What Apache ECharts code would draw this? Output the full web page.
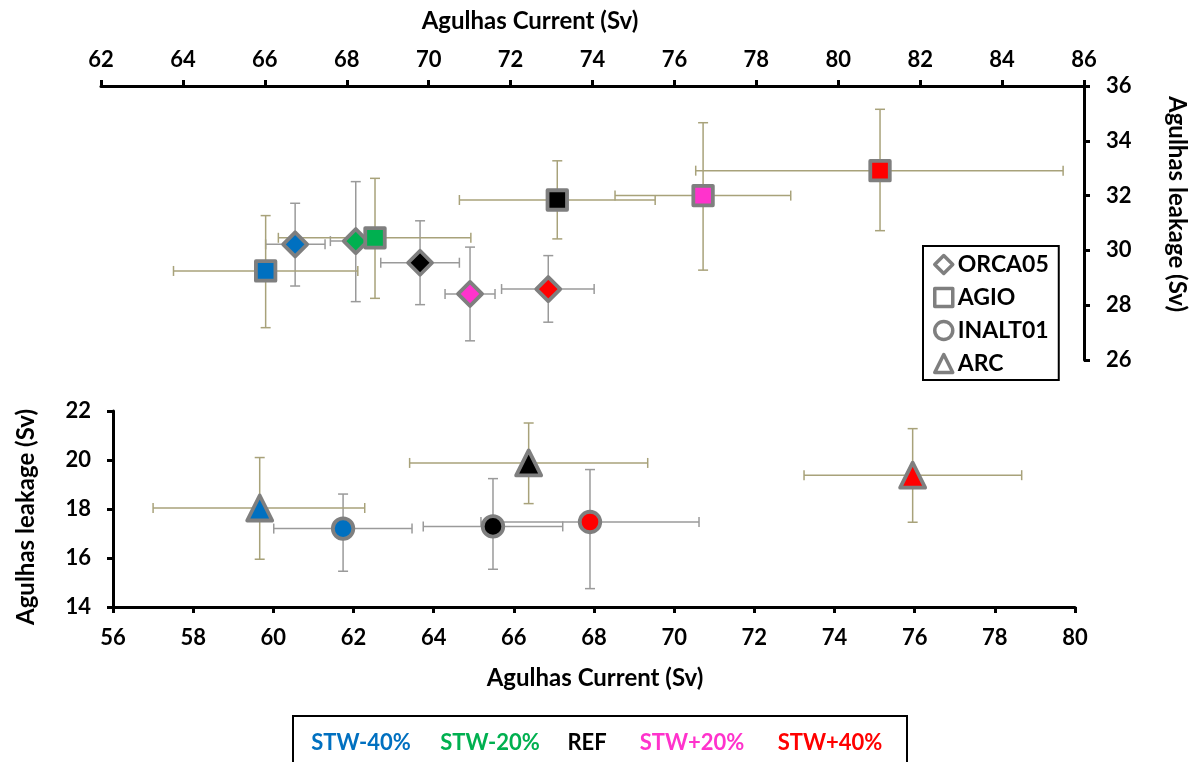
<!DOCTYPE html>
<html><head><meta charset="utf-8">
<script src="https://cdn.jsdelivr.net/npm/echarts@6/dist/echarts.min.js"></script>
<style>html,body{margin:0;padding:0;background:#fff}#c{width:1198px;height:762px}</style>
</head><body><div id="c"></div>
<script>
// ---------- data ----------
const scenarios = ['STW-40%', 'STW-20%', 'REF', 'STW+20%', 'STW+40%'];
const scenarioColors = ['#0070C0', '#00B050', '#000000', '#FF33CC', '#FF0000'];
const models = ['ORCA05', 'AGIO', 'INALT01', 'ARC'];

// top panel axes (x: Agulhas Current, y: leakage)
const topXRange = [62, 86, 2];
const topYRange = [26, 36, 2];
// bottom panel axes
const botXRange = [56, 80, 2];
const botYRange = [14, 22, 2];

const xTitle = 'Agulhas Current (Sv)';
const yTitle = 'Agulhas leakage (Sv)';

// ORCA05 (top panel, diamonds) - per scenario
const orcaX     = [66.74, 68.22, 69.79, 71.01, 72.92];
const orcaY     = [30.22, 30.34, 29.55, 28.41, 28.59];
const orcaXLow  = [66.02, 67.60, 68.83, 70.40, 71.78];
const orcaXHigh = [67.47, 68.84, 70.75, 71.62, 74.04];
const orcaYLow  = [28.70, 28.13, 28.02, 26.70, 27.38];
const orcaYHigh = [31.72, 32.51, 31.08, 30.12, 29.81];

// AGIO (top panel, squares)
const agioX     = [66.02, 68.69, 73.14, 76.70, 81.02];
const agioY     = [29.25, 30.46, 31.84, 32.00, 32.91];
const agioXLow  = [63.77, 66.33, 70.75, 74.55, 76.52];
const agioXHigh = [68.27, 71.03, 75.53, 78.84, 85.49];
const agioYLow  = [27.18, 28.25, 30.42, 29.28, 30.72];
const agioYHigh = [31.27, 32.63, 33.27, 34.66, 35.15];

// INALT01 (bottom panel, circles)
const inaltX     = [61.74, null, 65.48, null, 67.90];
const inaltY     = [17.20, null, 17.29, null, 17.47];
const inaltXLow  = [60.01, null, 63.74, null, 65.18];
const inaltXHigh = [63.46, null, 67.22, null, 70.62];
const inaltYLow  = [15.46, null, 15.54, null, 14.75];
const inaltYHigh = [18.61, null, 19.24, null, 19.61];

// ARC (bottom panel, triangles)
const arcX     = [59.66, null, 66.37, null, 75.95];
const arcY     = [18.04, null, 19.88, null, 19.38];
const arcXLow  = [57.00, null, 63.40, null, 73.24];
const arcXHigh = [62.28, null, 69.34, null, 78.67];
const arcYLow  = [15.95, null, 18.22, null, 17.46];
const arcYHigh = [20.10, null, 21.51, null, 21.28];

// ---------- styling ----------
const FONT = 'Lato';
const olive = '#A8A27A';
const grey = '#9A9A9A';
const markerBorder = '#7F7F7F';

function errRows(x, y, xl, xh, yl, yh) {
  const rows = [];
  for (let i = 0; i < x.length; i++) {
    if (x[i] == null) continue;
    rows.push([x[i], y[i], xl[i], xh[i], yl[i], yh[i]]);
  }
  return rows;
}
function pointRows(x, y) {
  const rows = [];
  for (let i = 0; i < x.length; i++) {
    if (x[i] == null) continue;
    rows.push({ value: [x[i], y[i]], name: scenarios[i], itemStyle: { color: scenarioColors[i] } });
  }
  return rows;
}
function errSeries(name, grid, rows, color) {
  return {
    type: 'custom', name: name + ' err', xAxisIndex: grid, yAxisIndex: grid, z: 1,
    silent: true,
    encode: { x: [0, 2, 3], y: [1, 4, 5] },
    data: rows,
    renderItem: function (params, api) {
      const c = api.coord([api.value(0), api.value(1)]);
      const xl = api.coord([api.value(2), api.value(1)]);
      const xh = api.coord([api.value(3), api.value(1)]);
      const yl = api.coord([api.value(0), api.value(4)]);
      const yh = api.coord([api.value(0), api.value(5)]);
      const cap = 5;
      const st = { stroke: color, lineWidth: 1.5 };
      const L = (x1, y1, x2, y2) => ({ type: 'line', shape: { x1, y1, x2, y2 }, style: st });
      return {
        type: 'group', children: [
          L(xl[0], c[1], xh[0], c[1]),
          L(xl[0], c[1] - cap, xl[0], c[1] + cap),
          L(xh[0], c[1] - cap, xh[0], c[1] + cap),
          L(c[0], yl[1], c[0], yh[1]),
          L(c[0] - cap, yl[1], c[0] + cap, yl[1]),
          L(c[0] - cap, yh[1], c[0] + cap, yh[1])
        ]
      };
    }
  };
}
function pointSeries(name, grid, rows, symbol, size) {
  return {
    type: 'scatter', name: name, xAxisIndex: grid, yAxisIndex: grid, z: 5,
    symbol: symbol, symbolSize: size,
    itemStyle: { color: '#FFFFFF', borderColor: markerBorder, borderWidth: 3.8, borderJoin: 'round', opacity: 1 },
    emphasis: { disabled: true },
    data: rows
  };
}

const axisLineStyle = { color: '#000', width: 3 };
const labelStyle = { fontFamily: FONT, fontWeight: 'bold', fontSize: 22, color: '#000' };
function valAxis(range, grid, position, margin) {
  return {
    type: 'value', gridIndex: grid, position: position,
    min: range[0], max: range[1], interval: range[2],
    axisLine: { show: true, onZero: false, lineStyle: axisLineStyle },
    axisTick: { show: true, inside: false, length: 6, lineStyle: { color: '#000', width: 3 } },
    axisLabel: Object.assign({ margin: margin }, labelStyle),
    splitLine: { show: false }
  };
}

const titleFont = 'bold 24px ' + FONT;
const legendTextX = [361, 490, 587, 692, 830];

const option = {
  animation: false,
  backgroundColor: '#fff',
  grid: [
    { left: 101, right: 114, top: 86, bottom: 402, containLabel: false, outerBoundsMode: 'none' },
    { left: 113, right: 123, top: 411, bottom: 155, containLabel: false, outerBoundsMode: 'none' }
  ],
  xAxis: [valAxis(topXRange, 0, 'top', 15), valAxis(botXRange, 1, 'bottom', 20)],
  yAxis: [valAxis(topYRange, 0, 'right', 22), valAxis(botYRange, 1, 'left', 22)],
  legend: {
    data: models, orient: 'vertical', left: 923, top: 246,
    selectedMode: false,
    backgroundColor: '#fff', borderColor: '#000', borderWidth: 2,
    padding: [7, 10, 5, 10], itemGap: 10, itemWidth: 18, itemHeight: 18,
    itemStyle: { borderWidth: 3.5, borderColor: markerBorder, color: '#fff' },
    textStyle: { fontFamily: FONT, fontWeight: 'bold', fontSize: 23, color: '#000' }
  },
  series: [
    errSeries('ORCA05', 0, errRows(orcaX, orcaY, orcaXLow, orcaXHigh, orcaYLow, orcaYHigh), grey),
    errSeries('AGIO', 0, errRows(agioX, agioY, agioXLow, agioXHigh, agioYLow, agioYHigh), olive),
    errSeries('INALT01', 1, errRows(inaltX, inaltY, inaltXLow, inaltXHigh, inaltYLow, inaltYHigh), grey),
    errSeries('ARC', 1, errRows(arcX, arcY, arcXLow, arcXHigh, arcYLow, arcYHigh), olive),
    pointSeries('ORCA05', 0, pointRows(orcaX, orcaY), 'diamond', 24),
    pointSeries('AGIO', 0, pointRows(agioX, agioY), 'rect', 19.5),
    pointSeries('INALT01', 1, pointRows(inaltX, inaltY), 'circle', 20.5),
    pointSeries('ARC', 1, pointRows(arcX, arcY), 'triangle', 25)
  ],
  graphic: [
    { type: 'text', x: 530, y: 21, style: { text: xTitle, font: titleFont, fill: '#000', align: 'center', verticalAlign: 'middle' } },
    { type: 'text', x: 595, y: 678, style: { text: xTitle, font: titleFont, fill: '#000', align: 'center', verticalAlign: 'middle' } },
    { type: 'text', x: 1177, y: 204, rotation: -Math.PI / 2, style: { text: yTitle, font: titleFont, fill: '#000', align: 'center', verticalAlign: 'middle' } },
    { type: 'text', x: 26, y: 517, rotation: Math.PI / 2, style: { text: yTitle, font: titleFont, fill: '#000', align: 'center', verticalAlign: 'middle' } },
    { type: 'rect', shape: { x: 293, y: 716, width: 614, height: 60 }, style: { fill: '#fff', stroke: '#000', lineWidth: 2 } }
  ].concat(scenarios.map((s, i) => ({
    type: 'text', x: legendTextX[i], y: 743,
    style: { text: s, font: 'bold 22px ' + FONT, fill: scenarioColors[i], align: 'center', verticalAlign: 'middle' }
  })))
};

const chart = echarts.init(document.getElementById('c'), null, { renderer: 'canvas' });
chart.setOption(option);
</script>
</body></html>
